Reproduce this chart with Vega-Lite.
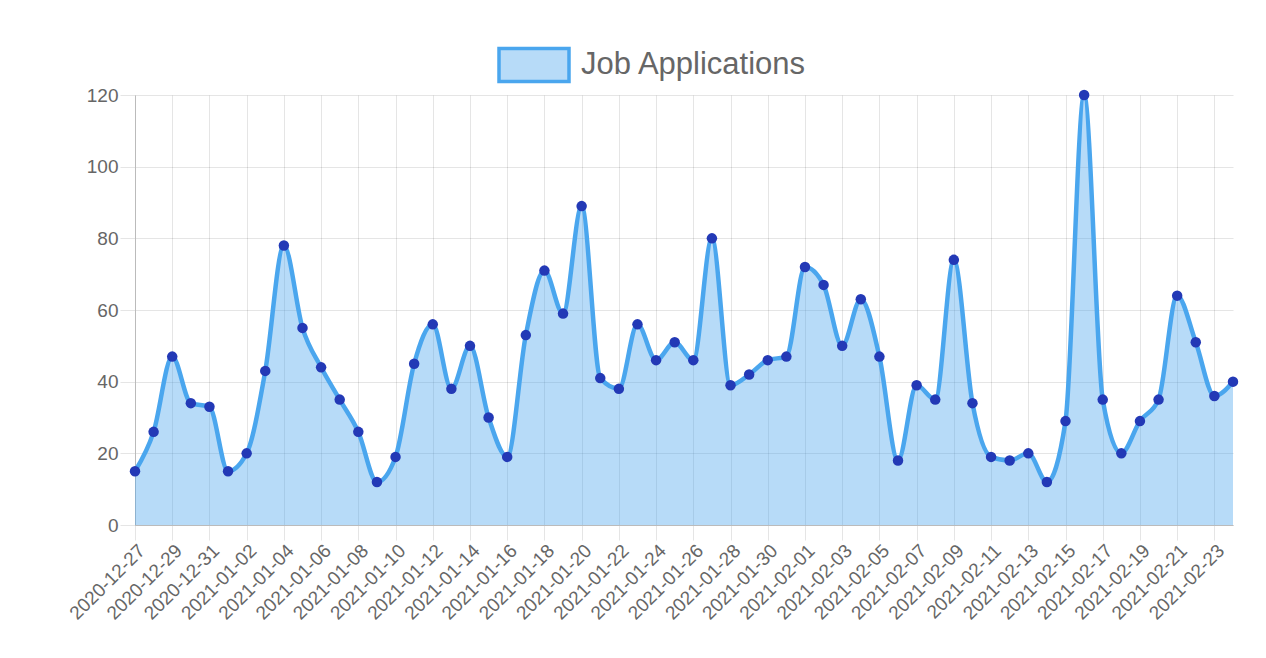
{
  "$schema": "https://vega.github.io/schema/vega-lite/v6.json",
  "width": 1098,
  "height": 430,
  "autosize": {"type": "none"},
  "padding": {"left": 135, "top": 95, "right": 33, "bottom": 133},
  "background": "white",
  "data": {"values": [
    {"date": "2020-12-27", "applications": 15},
    {"date": "2020-12-28", "applications": 26},
    {"date": "2020-12-29", "applications": 47},
    {"date": "2020-12-30", "applications": 34},
    {"date": "2020-12-31", "applications": 33},
    {"date": "2021-01-01", "applications": 15},
    {"date": "2021-01-02", "applications": 20},
    {"date": "2021-01-03", "applications": 43},
    {"date": "2021-01-04", "applications": 78},
    {"date": "2021-01-05", "applications": 55},
    {"date": "2021-01-06", "applications": 44},
    {"date": "2021-01-07", "applications": 35},
    {"date": "2021-01-08", "applications": 26},
    {"date": "2021-01-09", "applications": 12},
    {"date": "2021-01-10", "applications": 19},
    {"date": "2021-01-11", "applications": 45},
    {"date": "2021-01-12", "applications": 56},
    {"date": "2021-01-13", "applications": 38},
    {"date": "2021-01-14", "applications": 50},
    {"date": "2021-01-15", "applications": 30},
    {"date": "2021-01-16", "applications": 19},
    {"date": "2021-01-17", "applications": 53},
    {"date": "2021-01-18", "applications": 71},
    {"date": "2021-01-19", "applications": 59},
    {"date": "2021-01-20", "applications": 89},
    {"date": "2021-01-21", "applications": 41},
    {"date": "2021-01-22", "applications": 38},
    {"date": "2021-01-23", "applications": 56},
    {"date": "2021-01-24", "applications": 46},
    {"date": "2021-01-25", "applications": 51},
    {"date": "2021-01-26", "applications": 46},
    {"date": "2021-01-27", "applications": 80},
    {"date": "2021-01-28", "applications": 39},
    {"date": "2021-01-29", "applications": 42},
    {"date": "2021-01-30", "applications": 46},
    {"date": "2021-01-31", "applications": 47},
    {"date": "2021-02-01", "applications": 72},
    {"date": "2021-02-02", "applications": 67},
    {"date": "2021-02-03", "applications": 50},
    {"date": "2021-02-04", "applications": 63},
    {"date": "2021-02-05", "applications": 47},
    {"date": "2021-02-06", "applications": 18},
    {"date": "2021-02-07", "applications": 39},
    {"date": "2021-02-08", "applications": 35},
    {"date": "2021-02-09", "applications": 74},
    {"date": "2021-02-10", "applications": 34},
    {"date": "2021-02-11", "applications": 19},
    {"date": "2021-02-12", "applications": 18},
    {"date": "2021-02-13", "applications": 20},
    {"date": "2021-02-14", "applications": 12},
    {"date": "2021-02-15", "applications": 29},
    {"date": "2021-02-16", "applications": 120},
    {"date": "2021-02-17", "applications": 35},
    {"date": "2021-02-18", "applications": 20},
    {"date": "2021-02-19", "applications": 29},
    {"date": "2021-02-20", "applications": 35},
    {"date": "2021-02-21", "applications": 64},
    {"date": "2021-02-22", "applications": 51},
    {"date": "2021-02-23", "applications": 36},
    {"date": "2021-02-24", "applications": 40}
  ]},
  "encoding": {
    "x": {
      "field": "date",
      "type": "ordinal",
      "sort": null,
      "scale": {"type": "point", "padding": 0},
      "axis": {
        "title": null,
        "values": ["2020-12-27", "2020-12-29", "2020-12-31", "2021-01-02", "2021-01-04", "2021-01-06", "2021-01-08", "2021-01-10", "2021-01-12", "2021-01-14", "2021-01-16", "2021-01-18", "2021-01-20", "2021-01-22", "2021-01-24", "2021-01-26", "2021-01-28", "2021-01-30", "2021-02-01", "2021-02-03", "2021-02-05", "2021-02-07", "2021-02-09", "2021-02-11", "2021-02-13", "2021-02-15", "2021-02-17", "2021-02-19", "2021-02-21", "2021-02-23"],
        "labelAngle": -45,
        "labelFontSize": 19,
        "labelFont": "Liberation Sans",
        "labelColor": "#666666",
        "labelPadding": 1,
        "tickSize": 15,
        "tickColor": "rgba(0,0,0,0.1)",
        "grid": true,
        "gridColor": "rgba(0,0,0,0.1)",
        "domainColor": "#bbbbbb"
      }
    },
    "y": {
      "field": "applications",
      "type": "quantitative",
      "scale": {"domain": [0, 120], "nice": false},
      "axis": {
        "title": null,
        "values": [0, 20, 40, 60, 80, 100, 120],
        "labelFontSize": 19,
        "labelFont": "Liberation Sans",
        "labelColor": "#666666",
        "labelPadding": 2,
        "tickSize": 15,
        "tickColor": "rgba(0,0,0,0.1)",
        "grid": true,
        "gridColor": "rgba(0,0,0,0.1)",
        "domainColor": "#bbbbbb"
      }
    }
  },
  "layer": [
    {
      "mark": {"type": "area", "interpolate": "monotone", "color": "#4aa6ee", "fillOpacity": 0.4}
    },
    {
      "mark": {"type": "line", "interpolate": "monotone", "strokeWidth": 4.5},
      "encoding": {
        "stroke": {
          "datum": "Job Applications",
          "scale": {"range": ["#4aa6ee"]},
          "legend": {
            "title": null,
            "orient": "none",
            "legendX": 362,
            "legendY": -67,
            "padding": 0,
            "symbolType": "M-1,-0.47H1V0.47H-1Z",
            "symbolSize": 4900,
            "labelFontSize": 31,
            "labelFont": "Liberation Sans",
            "labelColor": "#666666",
            "labelOffset": 10,
            "labelLimit": 0,
            "encode": {
              "symbols": {
                "update": {
                  "fill": {"value": "#b7dbf8"},
                  "strokeWidth": {"value": 3.5},
                  "opacity": {"value": 1},
                  "fillOpacity": {"value": 1}
                }
              }
            }
          }
        }
      }
    },
    {
      "mark": {"type": "point", "filled": true, "size": 110, "color": "#2339b6", "opacity": 1}
    }
  ],
  "config": {
    "view": {"stroke": null}
  }
}
